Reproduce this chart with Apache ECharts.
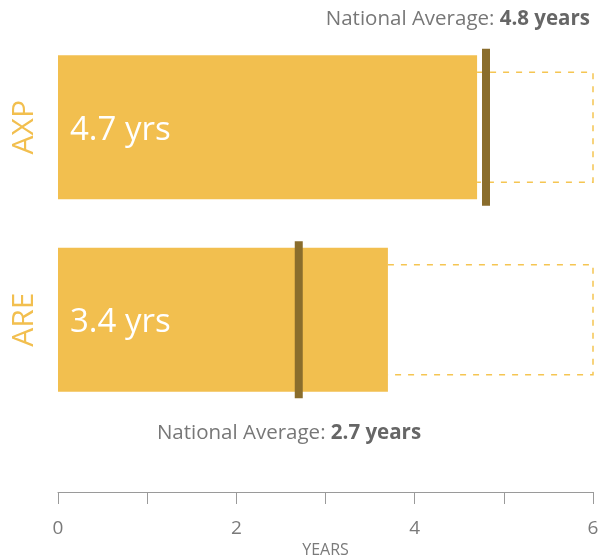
<!DOCTYPE html>
<html>
<head>
<meta charset="utf-8">
<script src="https://cdn.jsdelivr.net/npm/echarts@6/dist/echarts.min.js"></script>
<style>html,body{margin:0;padding:0;background:#fff;width:100%;height:100%;overflow:hidden}#c{width:100%;height:100%}</style>
</head>
<body>
<div id="c"></div>
<script>
var categories = ['AXP', 'ARE'];
var barValues = [4.7, 3.7];
var barLabels = ['4.7 yrs', '3.4 yrs'];
var nationalAverages = [4.8, 2.7];
var averageLabels = ['4.8 years', '2.7 years'];
var axisMax = 6;
var xTickLabels = ['0', '2', '4', '6'];

var FONT = '"Open Sans", Lato, sans-serif';
var GOLD = '#F2BF4F';
var BROWN = '#8A6D2C';

var chart = echarts.init(document.getElementById('c'), null, {renderer: 'canvas'});

var remainderData = categories.map(function (c, i) { return [barValues[i], i, axisMax]; });
var avgData = categories.map(function (c, i) { return [nationalAverages[i], i]; });

chart.setOption({
  animation: false,
  grid: {left: 58, right: 7, top: 31, bottom: 143, containLabel: false, outerBoundsMode: 'none'},
  xAxis: {
    type: 'value', min: 0, max: axisMax, interval: 1,
    offset: 76,
    splitLine: {show: false},
    axisLine: {show: true, lineStyle: {color: '#9a9a9a', width: 1}},
    axisTick: {show: true, length: 12, lineStyle: {color: '#9a9a9a'}},
    axisLabel: {
      color: '#7a7a7a', fontSize: 19, fontFamily: FONT, margin: 27,
      formatter: function (v) { return xTickLabels.indexOf(String(v)) >= 0 ? String(v) : ''; }
    },
    name: 'YEARS', nameLocation: 'middle', nameGap: 47,
    nameTextStyle: {color: '#7a7a7a', fontSize: 16, fontFamily: FONT}
  },
  yAxis: {
    type: 'category', data: categories, inverse: true,
    axisLine: {show: false}, axisTick: {show: false},
    axisLabel: {rotate: 90, color: GOLD, fontSize: 30, fontFamily: FONT, margin: 19}
  },
  series: [
    {
      type: 'bar', data: barValues, barWidth: 144,
      itemStyle: {color: GOLD},
      label: {
        show: true, position: 'insideLeft', distance: 12, offset: [0, 3],
        color: '#fff', fontSize: 33, fontFamily: FONT,
        formatter: function (p) { return barLabels[p.dataIndex]; }
      },
      z: 2
    },
    {
      type: 'custom', data: remainderData, z: 1,
      encode: {x: 0, y: 1},
      renderItem: function (params, api) {
        var s = api.coord([api.value(0), api.value(1)]);
        var e = api.coord([api.value(2), api.value(1)]);
        var h = 110;
        var t = s[1] - h / 2, b = s[1] + h / 2;
        return {
          type: 'polyline',
          shape: {points: [[s[0], t], [e[0], t], [e[0], b], [s[0], b]]},
          style: {fill: null, stroke: '#F5C552', lineWidth: 1.5, lineDash: [6, 7]}
        };
      }
    },
    {
      type: 'custom', data: avgData, z: 3,
      encode: {x: 0, y: 1},
      renderItem: function (params, api) {
        var p = api.coord([api.value(0), api.value(1)]);
        var h = 157, w = 8;
        return {
          type: 'rect',
          shape: {x: p[0] - w / 2, y: p[1] - h / 2, width: w, height: h},
          style: {fill: BROWN}
        };
      }
    }
  ],
  graphic: [
    {
      type: 'text', x: 590, y: 19,
      style: {
        text: '{a|National Average: }{b|' + averageLabels[0] + '}',
        align: 'right', verticalAlign: 'middle',
        rich: {
          a: {fontSize: 20.5, fontFamily: FONT, fill: '#777777'},
          b: {fontSize: 20.5, fontFamily: FONT, fontWeight: 'bold', fill: '#666666'}
        }
      }
    },
    {
      type: 'text', x: 289, y: 433,
      style: {
        text: '{a|National Average: }{b|' + averageLabels[1] + '}',
        align: 'center', verticalAlign: 'middle',
        rich: {
          a: {fontSize: 20.5, fontFamily: FONT, fill: '#777777'},
          b: {fontSize: 20.5, fontFamily: FONT, fontWeight: 'bold', fill: '#666666'}
        }
      }
    }
  ]
});
</script>
</body>
</html>
